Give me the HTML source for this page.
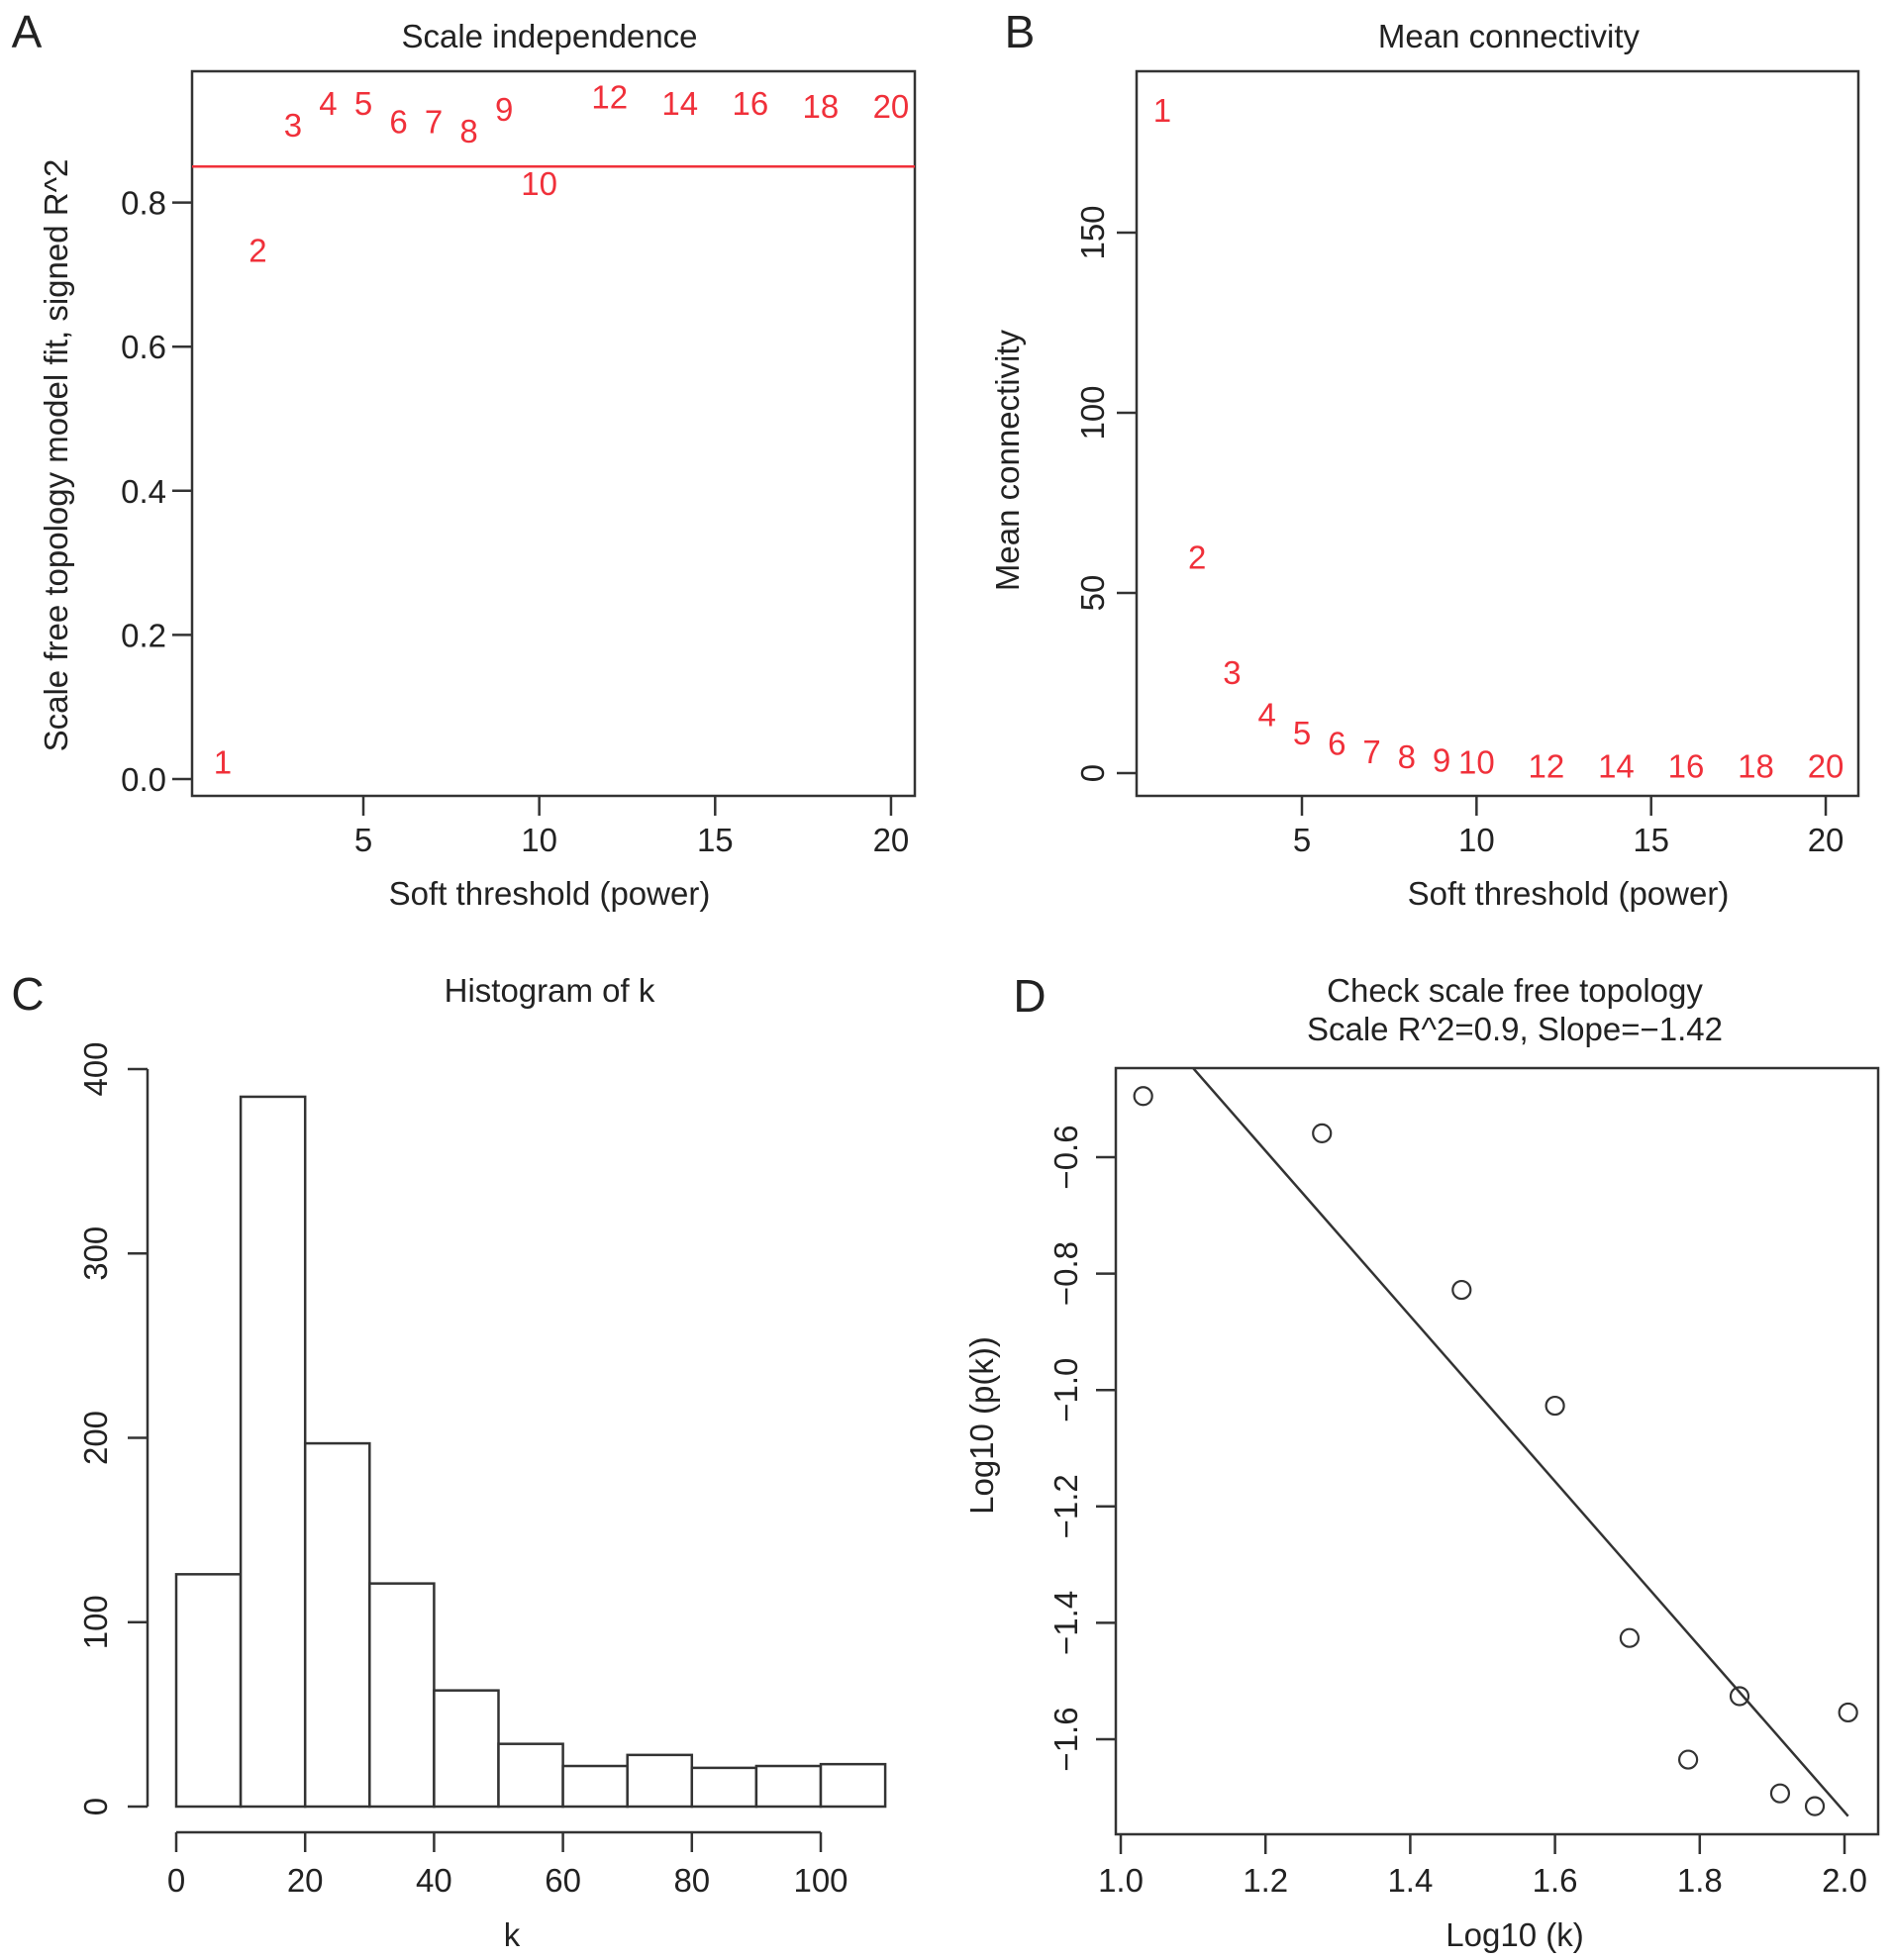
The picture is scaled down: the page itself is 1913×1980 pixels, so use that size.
<!DOCTYPE html>
<html><head><meta charset="utf-8"><style>
html,body{margin:0;padding:0;background:#fff}
svg{display:block}
text{font-family:"Liberation Sans",sans-serif;fill:#222}
</style></head><body>
<svg id="fig" width="1913" height="1980" viewBox="0 0 1913 1980" xmlns="http://www.w3.org/2000/svg"></svg>
<script>
// Panel A data
const powersA = [1,2,3,4,5,6,7,8,9,10,12,14,16,18,20];
const fitR2 = [0.024,0.734,0.908,0.938,0.938,0.913,0.913,0.90,0.93,0.827,0.947,0.938,0.938,0.934,0.934];
const cutoffA = 0.85;
const yTicksA = [0,0.2,0.4,0.6,0.8];
const xTicksA = [5,10,15,20];
// Panel B data
const meanK = [184,60,28,16.3,11.3,8.4,6,4.7,3.7,3.2,2.1,2,2,2,2];
const yTicksB = [0,50,100,150];
// Panel C data
const histBreaks = [0,10,20,30,40,50,60,70,80,90,100,110];
const histCounts = [126,385,197,121,63,34,22,28,21,22,23];
const yTicksC = [0,100,200,300,400];
const xTicksC = [0,20,40,60,80,100];
// Panel D data
const logK = [1.031,1.278,1.471,1.600,1.703,1.855,1.784,1.911,1.959,2.005];
const logPk = [-0.495,-0.559,-0.828,-1.027,-1.426,-1.526,-1.635,-1.693,-1.715,-1.554];
const fitSlope = -1.42;
const fitIntercept = 1.115;
const yTicksD = [-1.6,-1.4,-1.2,-1.0,-0.8,-0.6];
const xTicksD = [1.0,1.2,1.4,1.6,1.8,2.0];

const svg = document.getElementById('fig');
const NS = 'http://www.w3.org/2000/svg';
const FS = 33;
function el(tag, attrs, txt){
  const e = document.createElementNS(NS, tag);
  for (const k in attrs) e.setAttribute(k, attrs[k]);
  if (txt !== undefined) e.textContent = txt;
  svg.appendChild(e);
  return e;
}
function fmt1(v){ return v.toFixed(1).replace('-', '\u2212'); }

const letters = [['A',27,48],['B',1030,48],['C',28,1020],['D',1040,1022]];
letters.forEach(l=>{
  const t = el('text',{x:l[1],y:l[2],'font-size':46,'text-anchor':'middle'},l[0]);
  
  
});
function title(x,y,s,name){
  const t = el('text',{x:x,y:y,'font-size':FS,'text-anchor':'middle'},s);
  
  
}
function box(x1,y1,x2,y2,name){
  const r = el('rect',{x:x1,y:y1,width:x2-x1,height:y2-y1,fill:'none',stroke:'#333','stroke-width':2.5});
  
  
}
function xaxis(ticks, sx, yb, labelY, labelFn, name){
  ticks.forEach(v=>{
    const l = el('line',{x1:sx(v),x2:sx(v),y1:yb,y2:yb+20,stroke:'#333','stroke-width':2.5});
    
    
    const t = el('text',{x:sx(v),y:labelY,'font-size':FS,'text-anchor':'middle'},labelFn(v));
    
    
  });
}
function yaxis(ticks, sy, xl, labelFn, name, rotate, labelX){
  ticks.forEach(v=>{
    const l = el('line',{x1:xl-20,x2:xl,y1:sy(v),y2:sy(v),stroke:'#333','stroke-width':2.5});
    
    
    let t;
    if (rotate){
      t = el('text',{x:labelX,y:sy(v),'font-size':FS,'text-anchor':'middle',transform:`rotate(-90 ${labelX} ${sy(v)})`,dy:12},labelFn(v));
    } else {
      t = el('text',{x:labelX,y:sy(v)+12,'font-size':FS,'text-anchor':'end'},labelFn(v));
    }
    
    
  });
}
function ytitle(x,y,s,name){
  const t = el('text',{x:x,y:y,'font-size':FS,'text-anchor':'middle',transform:`rotate(-90 ${x} ${y})`},s);
  
  
}

// ---------- Panel A ----------
const sxA = v => 367 + (v-5)*35.53;
const syA = v => 787 - v*728;
title(555,48,'Scale independence','panel-a-title');
box(194,72,924,804,'panel-a-plot-box');
xaxis(xTicksA,sxA,804,860,v=>String(v),'panel-a-x');
yaxis(yTicksA,syA,194,fmt1,'panel-a-y',false,168);
ytitle(68,460,'Scale free topology model fit, signed R^2','panel-a-y-title');
title(555,914,'Soft threshold (power)','panel-a-x-title');
const hl = el('line',{x1:194,x2:924,y1:syA(cutoffA),y2:syA(cutoffA),stroke:'#f0303a','stroke-width':2.5});


powersA.forEach((p,i)=>{
  const t = el('text',{x:sxA(p),y:syA(fitR2[i])+12,'font-size':FS,'text-anchor':'middle',style:'fill:#f0303a'},String(p));
  
  
});

// ---------- Panel B ----------
const sxB = v => 1315 + (v-5)*35.27;
const syB = v => 781 - v*3.64;
title(1524,48,'Mean connectivity','panel-b-title');
box(1148,72,1877,804,'panel-b-plot-box');
xaxis(xTicksA,sxB,804,860,v=>String(v),'panel-b-x');
yaxis(yTicksB,syB,1148,v=>String(v),'panel-b-y',true,1103);
ytitle(1029,465,'Mean connectivity','panel-b-y-title');
title(1584,914,'Soft threshold (power)','panel-b-x-title');
powersA.forEach((p,i)=>{
  const t = el('text',{x:sxB(p),y:syB(meanK[i])+12,'font-size':FS,'text-anchor':'middle',style:'fill:#f0303a'},String(p));
  
  
});

// ---------- Panel C ----------
const sxC = v => 178 + v*6.51;
const syC = v => 1825 - v*1.8625;
title(555,1012,'Histogram of k','panel-c-title');
histCounts.forEach((c,i)=>{
  const x1 = sxC(histBreaks[i]), x2 = sxC(histBreaks[i+1]);
  const r = el('rect',{x:x1,y:syC(c),width:x2-x1,height:syC(0)-syC(c),fill:'#fff',stroke:'#333','stroke-width':2.5});
  
  
});
const yal = el('line',{x1:149,x2:149,y1:syC(400),y2:syC(0),stroke:'#333','stroke-width':2.5});


yaxis(yTicksC,syC,149,v=>String(v),'panel-c-y',true,96);
const xal = el('line',{x1:sxC(0),x2:sxC(100),y1:1851,y2:1851,stroke:'#333','stroke-width':2.5});


xaxis(xTicksC,sxC,1851,1911,v=>String(v),'panel-c-x');
title(517,1966,'k','panel-c-x-title');

// ---------- Panel D ----------
const sxD = v => 1132 + (v-1)*731;
const syD = v => 1169 - (v+0.6)*588;
title(1530,1012,'Check scale free topology','panel-d-title');
title(1530,1051,'Scale R^2=0.9, Slope=\u22121.42','panel-d-subtitle');
box(1127,1079,1897,1853,'panel-d-plot-box');
xaxis(xTicksD,sxD,1853,1911,v=>v.toFixed(1),'panel-d-x');
yaxis(yTicksD,syD,1127,fmt1,'panel-d-y',true,1076);
ytitle(1003,1440,'Log10 (p(k))','panel-d-y-title');
title(1530,1966,'Log10 (k)','panel-d-x-title');
const cp = el('clipPath',{id:'clipD'});
const cr = document.createElementNS(NS,'rect');
cr.setAttribute('x',1127);cr.setAttribute('y',1079);cr.setAttribute('width',770);cr.setAttribute('height',774);
cp.appendChild(cr);
const xmin = Math.min(...logK), xmax = Math.max(...logK);
const fl = el('line',{x1:sxD(xmin),y1:syD(fitIntercept+fitSlope*xmin),x2:sxD(xmax),y2:syD(fitIntercept+fitSlope*xmax),stroke:'#333','stroke-width':2.5,'clip-path':'url(#clipD)'});


logK.forEach((x,i)=>{
  const c = el('circle',{cx:sxD(x),cy:syD(logPk[i]),r:9,fill:'none',stroke:'#333','stroke-width':2.2});
  
  
});
</script>
</body></html>
